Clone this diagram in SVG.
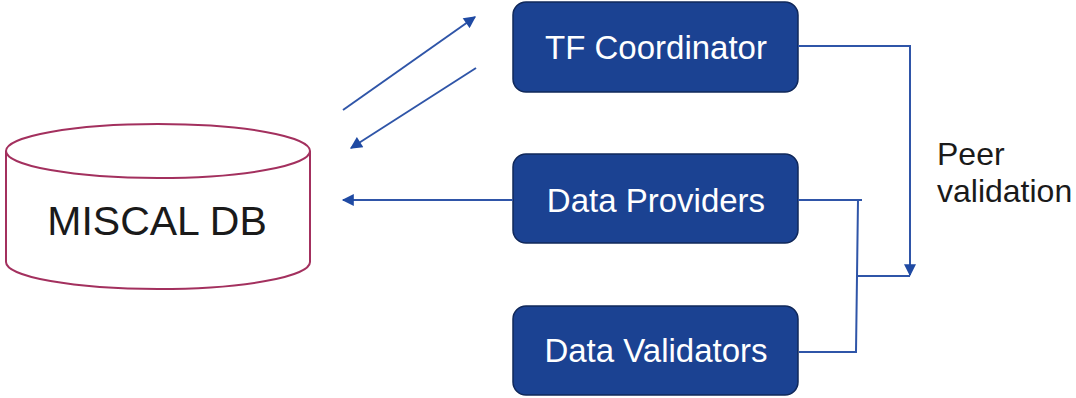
<svg xmlns="http://www.w3.org/2000/svg" width="1076" height="398" viewBox="0 0 1076 398">
<style>
.box{fill:#1b4292;stroke:#10285a;stroke-width:1.5}
.bt{fill:#ffffff;font-family:"Liberation Sans",Arial,sans-serif;font-size:33px;text-anchor:middle}
.ln{fill:none;stroke:#2f55a8;stroke-width:2}
.cyl{fill:#ffffff;stroke:#a3305e;stroke-width:2}
.dt{fill:#1a1a1a;font-family:"Liberation Sans",Arial,sans-serif}
</style>
<defs>
<marker id="ah" viewBox="0 0 10 10" refX="9" refY="5" markerWidth="7" markerHeight="6" orient="auto" markerUnits="strokeWidth">
<path d="M0,0 L10,5 L0,10 z" fill="#1f4aa3"/>
</marker>
</defs>
<g id="miscal-db">
<path class="cyl" d="M6,151 L6,262 A152,27 0 0 0 310,262 L310,151"/>
<ellipse class="cyl" cx="158" cy="151" rx="152" ry="27"/>
<text class="dt" x="157" y="235" font-size="41" text-anchor="middle">MISCAL DB</text>
</g>
<g id="tf-coordinator">
<rect class="box" x="513" y="2" width="285" height="90" rx="13"/>
<text class="bt" x="656" y="59">TF Coordinator</text>
</g>
<g id="data-providers">
<rect class="box" x="513" y="154" width="285" height="89" rx="13"/>
<text class="bt" x="656" y="212">Data Providers</text>
</g>
<g id="data-validators">
<rect class="box" x="513" y="306" width="285" height="89" rx="13"/>
<text class="bt" x="656" y="362">Data Validators</text>
</g>
<g id="peer-validation-label">
<text class="dt" x="937" y="165" font-size="32">Peer</text>
<text class="dt" x="937" y="202" font-size="32">validation</text>
</g>
<g id="connectors">
<line class="ln" x1="343" y1="110" x2="475" y2="17" marker-end="url(#ah)"/>
<line class="ln" x1="476" y1="68" x2="351" y2="148" marker-end="url(#ah)"/>
<line class="ln" x1="513" y1="200" x2="343" y2="200" marker-end="url(#ah)"/>
<polyline class="ln" points="798,46 910,46 910,275" marker-end="url(#ah)"/>
<polyline class="ln" points="798,200 862,200"/>
<polyline class="ln" points="799,352 856,352 858,200"/>
<line class="ln" x1="857" y1="276" x2="910" y2="276"/>
</g>
</svg>
